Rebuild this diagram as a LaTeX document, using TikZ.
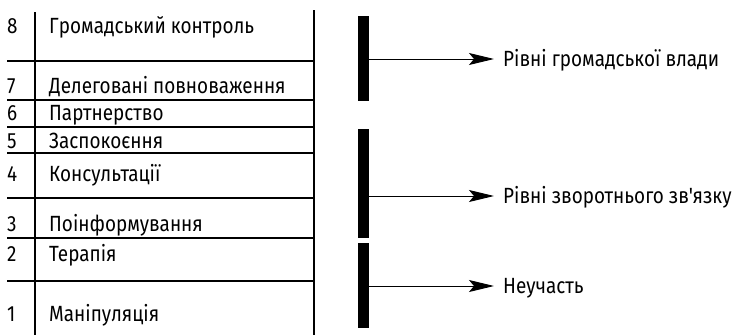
\documentclass[tikz,border=0pt]{standalone}
\usepackage{fontspec}
\setmainfont{Fira Sans}[FakeStretch=0.86, Ligatures=TeXOff]
\usetikzlibrary{arrows.meta}
\begin{document}
\begin{tikzpicture}[x=1pt,y=-1pt,
  txt/.style={anchor=base west, inner sep=0pt, font=\fontsize{22}{26}\selectfont},
  hline/.style={line width=1.4pt},
  vline/.style={line width=2.6pt},
  bar/.style={fill=black, draw=none, minimum width=11pt, inner sep=0pt},
  arr/.style={line width=1pt, -{Stealth[length=25pt, width=12pt, inset=5pt]}}]
\useasboundingbox (0,0) rectangle (739,335);
% vertical lines
\coordinate (lt) at (35,12); \coordinate (lb) at (35,335);
\coordinate (rt) at (314,10); \coordinate (rb) at (314,335);
\draw[vline] (lt) -- (lb);
\draw[vline] (rt) -- (rb);
% horizontal lines
\foreach \yy/\nm in {61/h1,100/h2,127/h3,153/h4,198/h5,238/h6,281/h7}{
  \coordinate (\nm a) at (7,\yy); \coordinate (\nm b) at (314,\yy);
  \draw[hline] (\nm a) -- (\nm b);
}
% numbers and labels
\foreach \n/\yy/\lab in {8/33/{Громадський контроль},7/93/{Делеговані повноваження},6/120/{Партнерство},5/148/{Заспокоєння},4/181/{Консультації},3/231/{Поінформування},2/261/{Терапія},1/321/{Маніпуляція}}{
  \node[txt] (n\n) at (7,\yy) {\n};
  \node[txt] (l\n) at (49,\yy) {\lab};
}
% bars
\node[bar, minimum height=85pt] (b1) at (363.5,58.5) {};
\node[bar, minimum height=109pt] (b2) at (363.5,183.5) {};
\node[bar, minimum height=85pt] (b3) at (363.5,285.5) {};
% right labels
\node[txt] (t1) at (503,66) {Рівні громадської влади};
\node[txt] (t2) at (503,203) {Рівні зворотнього зв'язку};
\node[txt] (t3) at (503,293) {Неучасть};
\coordinate (e1) at (494,59);
\coordinate (e2) at (494,196);
\coordinate (e3) at (494,286);
\draw[arr] (b1.east |- e1) -- (e1);
\draw[arr] (b2.east |- e2) -- (e2);
\draw[arr] (b3.east |- e3) -- (e3);
\end{tikzpicture}
\end{document}
